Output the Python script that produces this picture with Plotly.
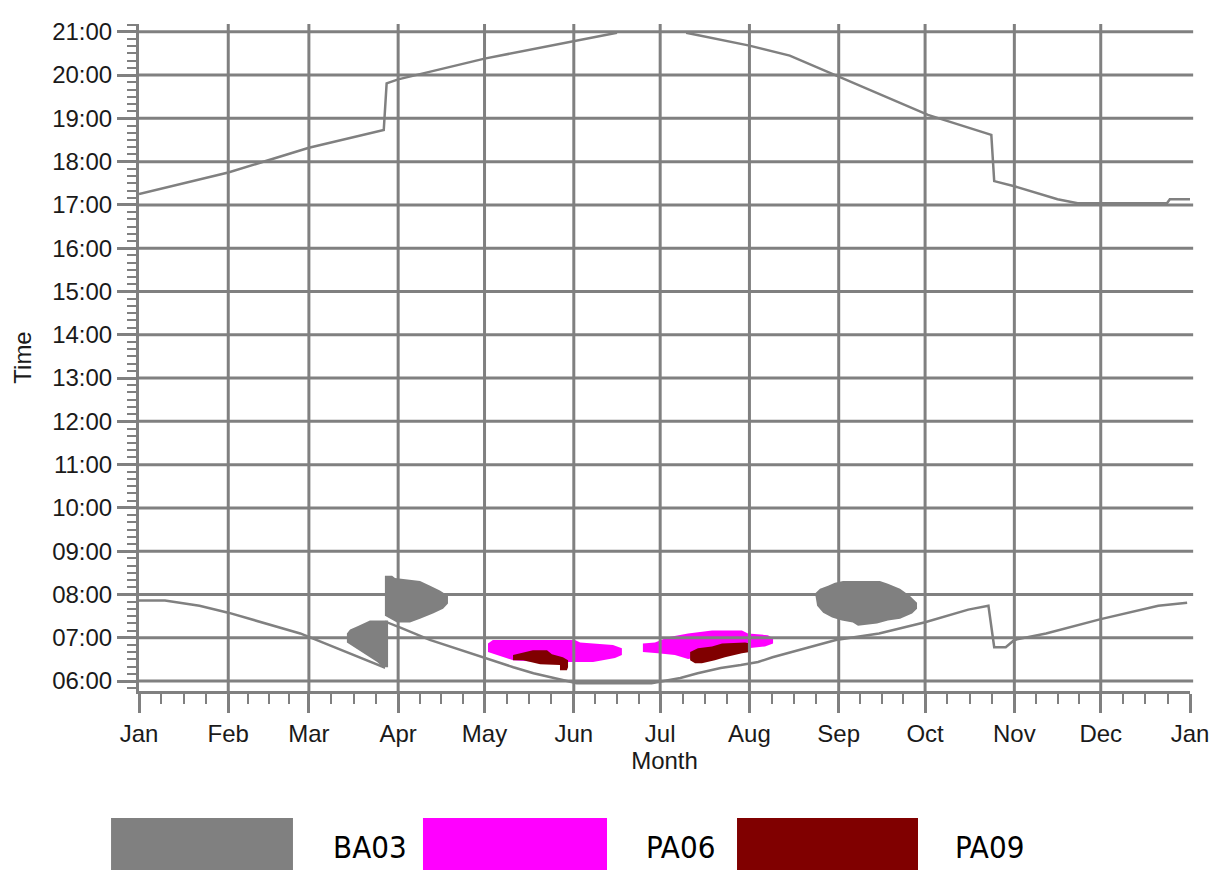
import plotly.graph_objects as go

# ---------------- data ----------------
month_labels = ["Jan", "Feb", "Mar", "Apr", "May", "Jun", "Jul", "Aug", "Sep", "Oct", "Nov", "Dec", "Jan"]
month_start_days = [0, 31, 59, 90, 120, 151, 181, 212, 243, 273, 304, 334, 365]
hour_values = list(range(6, 22))
hour_labels = [f"{h:02d}:00" for h in hour_values]

# sunset (top line), day-of-year vs hour; gap where it leaves the chart at the top
sunset_day = [0, 31, 59, 85, 86, 90, 120, 151, 166, None, 190, 199, 212, 226, 242, 274, 296, 297, 304, 319, 326, 357, 358, 365]
sunset_hour = [17.25, 17.75, 18.32, 18.73, 19.81, 19.90, 20.38, 20.79, 20.98, None, 20.98, 20.86, 20.68, 20.45, 19.99, 19.08, 18.62, 17.55, 17.43, 17.13, 17.04, 17.04, 17.13, 17.13]

# sunrise (bottom line)
sunrise_day = [0, 9, 21, 31, 56, 66, 85, 86, 91, 101, 112, 120, 130, 137, 144, 152, 178, 188, 194, 202, 209, 215, 220, 242, 257, 273, 288, 295, 297, 301, 304, 315, 334, 354, 364]
sunrise_hour = [7.86, 7.86, 7.74, 7.58, 7.10, 6.83, 6.32, 7.36, 7.23, 6.95, 6.71, 6.53, 6.32, 6.18, 6.07, 5.95, 5.95, 6.07, 6.18, 6.30, 6.37, 6.44, 6.55, 6.95, 7.10, 7.36, 7.65, 7.74, 6.78, 6.78, 6.95, 7.10, 7.43, 7.74, 7.81]

# shadow areas (outlines)
ba03_a_day = [72.2, 73.3, 75.7, 77.8, 80.2, 86.5, 86.5, 84.7, 82.7, 79.2, 74.9, 72.2]
ba03_a_hour = [7.10, 7.19, 7.26, 7.33, 7.40, 7.40, 6.32, 6.32, 6.44, 6.59, 6.78, 6.89]

ba03_b_day = [85.4, 87.9, 88.9, 97.6, 101.1, 104.5, 107.3, 107.3, 105.6, 102.1, 97.6, 94.1, 89.6, 85.4]
ba03_b_hour = [8.43, 8.43, 8.38, 8.31, 8.20, 8.09, 7.97, 7.79, 7.67, 7.56, 7.44, 7.35, 7.35, 7.51]

ba03_c_day = [239.3, 241.7, 244.5, 257.3, 260.1, 264.3, 267.7, 270.2, 270.2, 268.5, 264.3, 260.1, 256.3, 249.7, 247.9, 244.1, 240.7, 237.6, 235.5, 234.8, 236.5]
ba03_c_hour = [8.20, 8.27, 8.31, 8.31, 8.25, 8.13, 7.97, 7.81, 7.67, 7.56, 7.44, 7.40, 7.33, 7.28, 7.35, 7.40, 7.47, 7.58, 7.74, 8.02, 8.13]

pa06_a_day = [121.2, 122.9, 151.4, 153.2, 164.6, 167.7, 167.7, 165.3, 157.7, 149.7, 139.3, 129.9, 125.4, 121.2]
pa06_a_hour = [6.87, 6.95, 6.95, 6.89, 6.83, 6.76, 6.60, 6.53, 6.44, 6.44, 6.44, 6.48, 6.57, 6.67]

pa06_b_day = [175.0, 179.2, 183.7, 190.7, 199.0, 209.4, 211.5, 218.4, 220.2, 220.2, 217.4, 211.5, 190.7, 186.1, 180.2, 175.0]
pa06_b_hour = [6.87, 6.89, 7.01, 7.10, 7.17, 7.17, 7.10, 7.06, 6.99, 6.87, 6.80, 6.76, 6.51, 6.60, 6.64, 6.67]

pa09_a_day = [129.9, 135.8, 136.8, 141.7, 143.4, 147.2, 149.0, 149.0, 148.6, 146.2, 146.2, 139.3, 133.4, 129.9]
pa09_a_hour = [6.60, 6.69, 6.71, 6.71, 6.62, 6.55, 6.48, 6.32, 6.25, 6.25, 6.37, 6.39, 6.48, 6.48]

pa09_b_day = [191.4, 194.1, 199.0, 202.5, 210.5, 212.2, 212.2, 209.4, 203.5, 200.0, 195.5, 193.1, 191.4]
pa09_b_hour = [6.67, 6.76, 6.80, 6.87, 6.89, 6.87, 6.67, 6.64, 6.55, 6.48, 6.41, 6.41, 6.48]

legend_names = ["BA03", "PA06", "PA09"]
legend_colors = ["#808080", "#FF00FF", "#800000"]

# ---------------- styling ----------------
GRID = "#808080"
FONT = "Liberation Sans, Arial, sans-serif"
TXT = "#1a1a1a"

fig = go.Figure()

def blob(xs, ys, color):
    fig.add_trace(go.Scatter(x=xs, y=ys, mode="lines", fill="toself",
                             fillcolor=color, line=dict(width=0, color=color),
                             hoverinfo="skip", showlegend=False))

blob(ba03_a_day, ba03_a_hour, legend_colors[0])
blob(ba03_b_day, ba03_b_hour, legend_colors[0])
blob(ba03_c_day, ba03_c_hour, legend_colors[0])
blob(pa06_a_day, pa06_a_hour, legend_colors[1])
blob(pa06_b_day, pa06_b_hour, legend_colors[1])
blob(pa09_a_day, pa09_a_hour, legend_colors[2])
blob(pa09_b_day, pa09_b_hour, legend_colors[2])

for xs, ys in [(sunset_day, sunset_hour), (sunrise_day, sunrise_hour)]:
    fig.add_trace(go.Scatter(x=xs, y=ys, mode="lines", connectgaps=False,
                             line=dict(color=GRID, width=2.5),
                             hoverinfo="skip", showlegend=False))

shapes = []
# grid lines drawn above the shaded areas
for h in hour_values:
    shapes.append(dict(type="line", xref="paper", yref="y", x0=0, x1=1.003, y0=h, y1=h,
                       line=dict(color=GRID, width=3), layer="above"))
for d in month_start_days[1:-1]:
    shapes.append(dict(type="line", xref="x", yref="paper", x0=d, x1=d, y0=0, y1=1,
                       line=dict(color=GRID, width=3), layer="above"))

# legend swatches below the chart
legend_x = [(-0.0266, 0.1465), (0.2702, 0.4453), (0.5690, 0.7412)]
for (x0, x1), c in zip(legend_x, legend_colors):
    shapes.append(dict(type="rect", xref="paper", yref="paper", x0=x0, x1=x1,
                       y0=-0.28, y1=-0.1905, fillcolor=c, line=dict(width=0), layer="above"))

annotations = []
legend_text_x = [0.2198, 0.5148, 0.8088]
for x, name in zip(legend_text_x, legend_names):
    annotations.append(dict(xref="paper", yref="paper", x=x, y=-0.2339, text=name,
                            showarrow=False, xanchor="center", yanchor="middle",
                            font=dict(family="DejaVu Sans Condensed, Liberation Sans Narrow, sans-serif",
                                      size=31, color="#000000")))

minor_x = []
for s, e in zip(month_start_days[:-1], month_start_days[1:]):
    for k in (1, 2, 3):
        minor_x.append(s + k * (e - s) / 4)

# the page body adds an 8px offset, so margins are reduced by 8px on the left/top
fig.update_layout(
    width=1219, height=870,
    margin=dict(l=131, r=37, t=10, b=187),
    paper_bgcolor="white", plot_bgcolor="white",
    showlegend=False,
    shapes=shapes, annotations=annotations,
    font=dict(family=FONT, size=24, color=TXT),
    xaxis=dict(
        range=[0, 365], tickmode="array", tickvals=month_start_days, ticktext=month_labels,
        showgrid=False, zeroline=False,
        showline=True, linecolor=GRID, linewidth=3,
        ticks="outside", ticklen=19, tickwidth=3, tickcolor=GRID,
        tickfont=dict(family=FONT, size=24, color=TXT),
        minor=dict(tickmode="array", tickvals=minor_x, ticks="outside", ticklen=10,
                   tickwidth=2, tickcolor=GRID, showgrid=False),
        title=dict(text="Month", font=dict(family=FONT, size=24, color=TXT), standoff=4),
    ),
    yaxis=dict(
        range=[5.77, 21.18], tickmode="array", tickvals=hour_values, ticktext=hour_labels,
        showgrid=False, zeroline=False,
        showline=True, linecolor=GRID, linewidth=3,
        ticks="outside", ticklen=19, tickwidth=3, tickcolor=GRID,
        tickfont=dict(family=FONT, size=24, color=TXT),
        minor=dict(tick0=6, dtick=1/6, ticks="outside", ticklen=9,
                   tickwidth=2, tickcolor=GRID, showgrid=False),
        title=dict(text="Time", font=dict(family=FONT, size=24, color=TXT), standoff=14),
    ),
)

fig.write_html("out.html")
